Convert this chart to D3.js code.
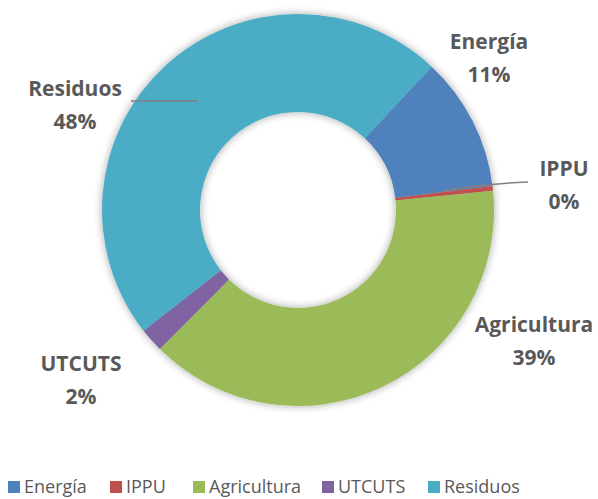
<!DOCTYPE html>
<html><head><meta charset="utf-8">
<script src="https://cdn.jsdelivr.net/npm/d3@7"></script>
<style>body{margin:0;background:#fff;}svg{display:block;font-family:"Open Sans",Lato,sans-serif;}</style>
</head><body>
<svg id="c" width="598" height="499"></svg>
<script>
const categories = ["Energía", "IPPU", "Agricultura", "UTCUTS", "Residuos"];
const values = [11.1, 0.4, 39.0, 2.0, 47.5];
const colors = ["#4F81BD", "#C0504D", "#9BBB59", "#8064A2", "#4BACC6"];
const labelPos = [[489, 49], [564, 176], [534, 332], [81, 371], [75, 96]];

const svg = d3.select("#c");
const cx = 298, cy = 210, R = 196, r = 98;
const defs = svg.append("defs");
const f = defs.append("filter").attr("id", "sh").attr("x", "-20%").attr("y", "-20%").attr("width", "140%").attr("height", "140%");
f.append("feGaussianBlur").attr("in", "SourceAlpha").attr("stdDeviation", 4).attr("result", "b");
f.append("feComponentTransfer").attr("in", "b").attr("result", "o2").append("feFuncA").attr("type", "linear").attr("slope", 0.35);
const m = f.append("feMerge"); m.append("feMergeNode").attr("in", "o2"); m.append("feMergeNode").attr("in", "SourceGraphic");

const total = d3.sum(values);
const start = 43 * Math.PI / 180;
const pie = d3.pie().sort(null).value(d => d).startAngle(start).endAngle(start + 2 * Math.PI);
const arcs = pie(values);
const arc = d3.arc().innerRadius(r).outerRadius(R);
const g = svg.append("g").attr("transform", `translate(${cx},${cy})`).attr("filter", "url(#sh)");
g.selectAll("path").data(arcs).join("path").attr("d", arc).attr("fill", (d, i) => colors[i]);

// leader lines
svg.append("line").attr("x1", 131).attr("y1", 101).attr("x2", 198).attr("y2", 101).attr("stroke", "#7f7f7f").attr("stroke-width", 1.5);
svg.append("path").attr("d", "M441,191 Q480,184 528,182").attr("fill", "none").attr("stroke", "#7f7f7f").attr("stroke-width", 1.5);

const lab = svg.append("g").attr("font-weight", "bold").attr("font-size", 21).attr("fill", "#595959").attr("text-anchor", "middle");
categories.forEach((c, i) => {
  const [x, y] = labelPos[i];
  lab.append("text").attr("x", x).attr("y", y).text(c);
  lab.append("text").attr("x", x).attr("y", y + 33).text(Math.round(values[i] / total * 100) + "%");
});

const legX = [8, 110, 193, 322, 428];
const leg = svg.append("g");
categories.forEach((c, i) => {
  leg.append("rect").attr("x", legX[i]).attr("y", 481).attr("width", 12).attr("height", 12).attr("fill", colors[i]);
  leg.append("text").attr("x", legX[i] + 16).attr("y", 493).attr("font-size", 18).attr("fill", "#595959").text(c);
});
</script>
</body></html>
